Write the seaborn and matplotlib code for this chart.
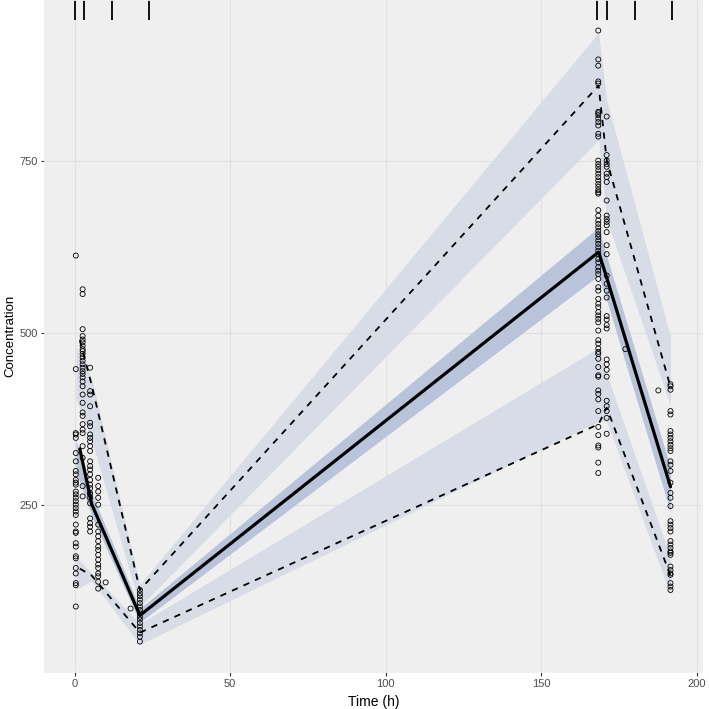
import matplotlib
matplotlib.use("Agg")
import matplotlib.pyplot as plt
import seaborn as sns
import pandas as pd

# sampling times of the observed columns
obs_times = [0.4, 2.6, 5.0, 7.6, 10.0, 18.0, 21.0, 168.3, 171.0, 177.0, 187.6, 191.5]

# observed concentrations per sampling time
conc_t0 = [613, 448, 355, 353, 348, 326, 314, 300, 295, 287, 283, 280, 270, 266, 261,
           256, 251, 246, 241, 236, 222, 212, 210, 195, 190, 176, 173, 159, 151, 137, 134, 103]
conc_t2 = [564, 557, 506, 496, 491, 487, 482, 477, 474, 470, 465, 460, 455, 450, 445,
           441, 436, 430, 423, 411, 399, 385, 380, 368, 360, 355, 336, 319, 278, 263]
conc_t5 = [450, 416, 411, 394, 370, 365, 353, 348, 343, 336, 329, 314, 307, 302, 295,
           287, 280, 275, 268, 266, 261, 253, 231, 224, 219, 212]
conc_t7 = [290, 278, 270, 261, 251, 222, 212, 205, 198, 190, 185, 178, 171, 164, 159,
           151, 147, 139, 129]
conc_t10 = [138]
conc_t18 = [100]
conc_t21 = [127, 122, 118, 113, 108, 103, 98, 93, 88, 84, 79, 74, 69, 64, 59, 52]
conc_t168 = [940, 898, 889, 866, 863, 822, 820, 817, 812, 807, 802, 790, 786, 751, 746,
             742, 737, 732, 727, 722, 717, 713, 708, 705, 703, 679, 671, 664, 659, 654,
             649, 644, 640, 635, 630, 625, 620, 615, 608, 603, 596, 591, 586, 579, 567,
             562, 550, 543, 538, 531, 526, 521, 516, 504, 490, 485, 478, 473, 470, 463,
             451, 439, 437, 417, 412, 404, 387, 364, 352, 337, 334, 312, 297]
conc_t171 = [815, 759, 751, 746, 742, 732, 727, 720, 693, 671, 666, 662, 657, 647, 628,
             615, 584, 572, 562, 552, 525, 520, 512, 507, 462, 455, 447, 437, 402, 394,
             387, 377, 354]
conc_t177 = [477]
conc_t187 = [417]
conc_t191 = [426, 423, 418, 387, 382, 358, 353, 348, 343, 338, 333, 329, 314, 309, 300,
             283, 268, 261, 249, 227, 222, 217, 212, 198, 193, 188, 183, 181, 178, 161,
             156, 151, 149, 137, 132, 127]

# observed percentiles per bin
line_t = [1.7, 5.5, 21.0, 168.4, 171.0, 191.5]
p95_obs = [490, 425, 127, 860, 752, 422]
p50_obs = [332, 252, 90, 618, 581, 277]
p05_obs = [158, 148, 65, 368, 392, 148]

# simulated confidence intervals of the percentiles
band_t = [0.5, 5.5, 21.0, 168.4, 171.0, 191.5]
p95_lo = [405, 345, 103, 781, 665, 395]
p95_hi = [480, 435, 135, 937, 839, 495]
p50_lo = [300, 235, 80, 584, 548, 240]
p50_hi = [345, 268, 100, 654, 612, 305]
p05_lo = [128, 140, 48, 372, 372, 120]
p05_hi = [175, 152, 78, 479, 441, 175]

# bin separators
rug_t = [0, 3, 12, 24, 168, 171, 180, 192]

cols = [conc_t0, conc_t2, conc_t5, conc_t7, conc_t10, conc_t18, conc_t21,
        conc_t168, conc_t171, conc_t177, conc_t187, conc_t191]
obs = pd.DataFrame({
    "time": [t for t, c in zip(obs_times, cols) for _ in c],
    "conc": [v for c in cols for v in c],
})

sns.set_theme(style="whitegrid", rc={
    "axes.facecolor": "#EFEFEF",
    "figure.facecolor": "white",
    "grid.color": "#E0E0E0",
    "grid.linewidth": 0.8,
    "axes.edgecolor": "#EFEFEF",
    "xtick.bottom": True,
    "ytick.left": True,
    "xtick.color": "#333333",
    "ytick.color": "#333333",
    "xtick.major.size": 3,
    "ytick.major.size": 3,
})
plt.rcParams["font.family"] = ["Liberation Sans", "DejaVu Sans"]

fig, ax = plt.subplots(figsize=(7.09, 7.09), dpi=100)
fig.subplots_adjust(left=0.063, right=0.99, bottom=0.052, top=1.0)

light = "#D7DCE7"
dark = "#B9C3D9"
ax.fill_between(band_t, p95_lo, p95_hi, color=light, lw=0, zorder=1)
ax.fill_between(band_t, p05_lo, p05_hi, color=light, lw=0, zorder=1)
ax.fill_between(band_t, p50_lo, p50_hi, color=dark, lw=0, zorder=1)

sns.lineplot(x=line_t, y=p95_obs, color="black", lw=1.3, estimator=None, ax=ax,
             linestyle=(0, (3.5, 3.5)), zorder=3)
sns.lineplot(x=line_t, y=p05_obs, color="black", lw=1.3, estimator=None, ax=ax,
             linestyle=(0, (3.5, 3.5)), zorder=3)
sns.lineplot(x=line_t, y=p50_obs, color="black", lw=2.3, estimator=None, ax=ax, zorder=3)

sns.scatterplot(data=obs, x="time", y="conc", marker="o", s=13, facecolors="none",
                edgecolor="black", linewidth=0.6, ax=ax, zorder=4)

ax.vlines(rug_t, 0.97, 1.0, transform=ax.get_xaxis_transform(), color="black", lw=1.3)

ax.set_xlim(-9.6, 201.6)
ax.set_ylim(7.6, 984.4)
ax.set_xticks([0, 50, 100, 150, 200])
ax.set_yticks([250, 500, 750])
ax.tick_params(axis="both", labelsize=8, labelcolor="#4D4D4D", pad=2, width=0.8)
ax.set_xlabel("Time (h)", fontsize=10, color="black", labelpad=4)
ax.set_ylabel("Concentration", fontsize=9.5, color="black", labelpad=2)

fig.savefig("out.png", dpi=100)
